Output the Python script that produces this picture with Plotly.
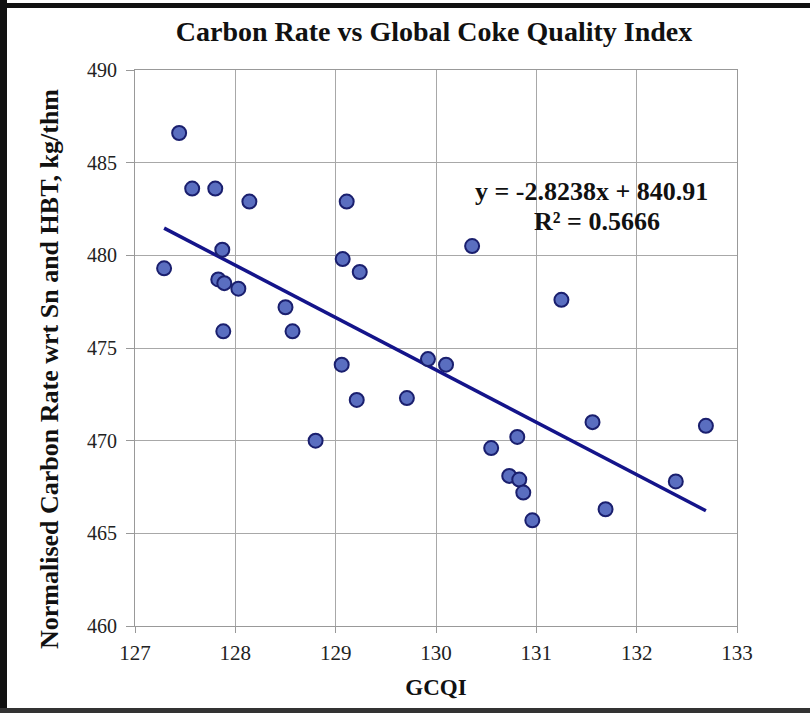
import numpy as np
import plotly.graph_objects as go

gcqi = [127.44, 127.57, 127.80, 128.14, 127.87, 127.29, 127.83, 127.89, 128.03, 128.50,
        128.57, 127.88, 129.11, 129.07, 129.24, 129.06, 129.21, 129.71, 129.92, 130.10,
        130.36, 128.80, 130.55, 131.25, 130.81, 130.73, 130.83, 130.87, 130.96, 131.56,
        132.69, 132.39, 131.69]
carbon = [486.6, 483.6, 483.6, 482.9, 480.3, 479.3, 478.7, 478.5, 478.2, 477.2,
          475.9, 475.9, 482.9, 479.8, 479.1, 474.1, 472.2, 472.3, 474.4, 474.1,
          480.5, 470.0, 469.6, 477.6, 470.2, 468.1, 467.9, 467.2, 465.7, 471.0,
          470.8, 467.8, 466.3]
slope = -2.8238
intercept = 840.91
r2 = 0.5666
x_ticks = [127, 128, 129, 130, 131, 132, 133]
y_ticks = [460, 465, 470, 475, 480, 485, 490]

W, H = 810, 713
ml, mr, mt, mb = 135, 73, 70, 87
pw, ph = W - ml - mr, H - mt - mb

def px(x):
    return (x - ml) / pw

def py(y):
    return (H - mb - y) / ph

serif = "Liberation Serif, Times New Roman, serif"
navy = "#14148a"

tx = np.array([min(gcqi), max(gcqi)])
ty = slope * tx + intercept

fig = go.Figure()
fig.add_trace(go.Scatter(x=tx, y=ty, mode="lines",
                         line=dict(color=navy, width=3.5), hoverinfo="skip"))
fig.add_trace(go.Scatter(x=gcqi, y=carbon, mode="markers",
                         marker=dict(size=14, color="#5a6ec0",
                                     line=dict(color="#1a1f6e", width=2))))

fig.add_annotation(x=131.55, y=483.43, text=f"<b>y = {slope}x + {intercept}</b>",
                   showarrow=False, font=dict(family=serif, size=26, color="#111"))
fig.add_annotation(x=131.6, y=481.8, text=f"<b>R² = {r2}</b>",
                   showarrow=False, font=dict(family=serif, size=26, color="#111"))
fig.add_annotation(xref="paper", yref="paper", x=px(49), y=py(369),
                   text="<b>Normalised Carbon Rate wrt Sn and HBT, kg/thm</b>",
                   textangle=-90, showarrow=False, xanchor="center", yanchor="middle",
                   font=dict(family=serif, size=26, color="#111"))

shapes = [
    dict(type="rect", xref="paper", yref="paper", x0=px(0), x1=px(7), y0=py(713), y1=py(0),
         fillcolor="#111", line=dict(width=0), layer="above"),
    dict(type="rect", xref="paper", yref="paper", x0=px(0), x1=px(810), y0=py(8), y1=py(3),
         fillcolor="#111", line=dict(width=0), layer="above"),
    dict(type="rect", xref="paper", yref="paper", x0=px(0), x1=px(810), y0=py(713), y1=py(708),
         fillcolor="#333", line=dict(width=0), layer="above"),
]

fig.update_layout(
    width=W, height=H,
    margin=dict(l=ml, r=mr, t=mt, b=mb),
    paper_bgcolor="white", plot_bgcolor="white",
    showlegend=False,
    shapes=shapes,
    title=dict(text="<b>Carbon Rate vs Global Coke Quality Index</b>",
               xref="paper", x=px(434), xanchor="center",
               yref="container", y=1 - 31 / H, yanchor="middle",
               font=dict(family=serif, size=28, color="#111")),
    xaxis=dict(range=[127, 133], tickvals=x_ticks, showgrid=True, gridcolor="#a8a8a8",
               gridwidth=1, showline=True, linecolor="#999", mirror=True,
               ticks="outside", ticklen=6, tickcolor="#999", zeroline=False,
               ticklabelstandoff=2,
               tickfont=dict(family=serif, size=21, color="#222"),
               title=dict(text="<b>GCQI</b>", font=dict(family=serif, size=23, color="#111"),
                          standoff=14)),
    yaxis=dict(range=[460, 490], tickvals=y_ticks, showgrid=True, gridcolor="#a8a8a8",
               gridwidth=1, showline=True, linecolor="#999", mirror=True,
               ticks="outside", ticklen=8, tickcolor="#999", zeroline=False,
               ticklabelstandoff=5,
               tickfont=dict(family=serif, size=20, color="#222")),
)

fig.write_html("out.html", config={"displayModeBar": False},
               post_script="document.body.style.margin='0px';")
